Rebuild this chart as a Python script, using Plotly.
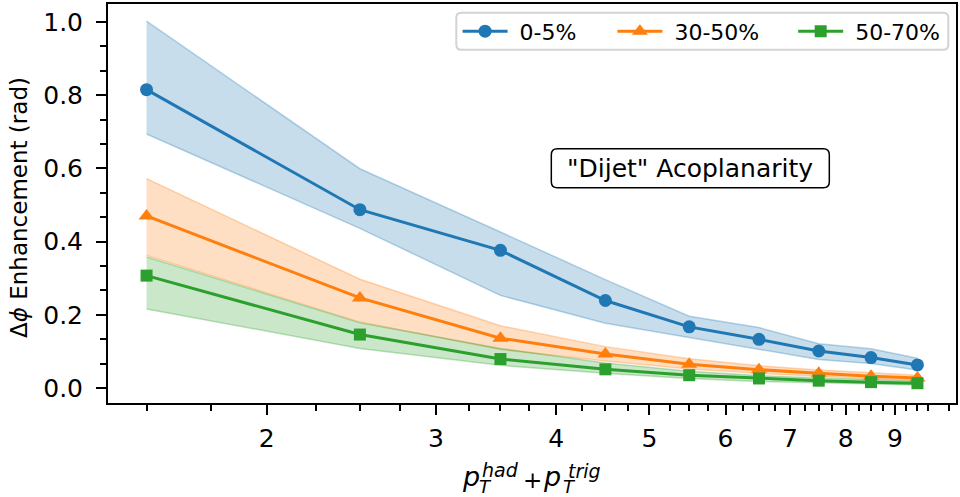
import plotly.graph_objects as go

# Summed transverse momentum bins (GeV/c)
pt_sum = [1.5, 2.5, 3.5, 4.5, 5.5, 6.5, 7.5, 8.5, 9.5]

# Delta-phi enhancement per centrality class: central value and band edges
central_mid = [0.815, 0.487, 0.376, 0.239, 0.167, 0.133, 0.101, 0.083, 0.063]
central_hi = [1.002, 0.599, 0.426, 0.296, 0.196, 0.165, 0.121, 0.107, 0.081]
central_lo = [0.694, 0.436, 0.253, 0.177, 0.138, 0.106, 0.078, 0.067, 0.049]

midc_mid = [0.470, 0.246, 0.136, 0.093, 0.065, 0.050, 0.040, 0.032, 0.027]
midc_hi = [0.572, 0.297, 0.170, 0.113, 0.080, 0.061, 0.049, 0.041, 0.035]
midc_lo = [0.362, 0.180, 0.105, 0.074, 0.052, 0.040, 0.032, 0.025, 0.021]

periph_mid = [0.307, 0.146, 0.079, 0.051, 0.035, 0.026, 0.020, 0.016, 0.013]
periph_hi = [0.358, 0.178, 0.108, 0.068, 0.046, 0.034, 0.027, 0.022, 0.019]
periph_lo = [0.216, 0.108, 0.062, 0.040, 0.026, 0.018, 0.014, 0.010, 0.008]

labels = ["0-5%", "30-50%", "50-70%"]
colors = ["#1f77b4", "#ff7f0e", "#2ca02c"]
rgb = ["31,119,180", "255,127,14", "44,160,44"]
symbols = ["circle", "triangle-up", "square"]
msizes = [13, 14, 12]

x_major = [2, 3, 4, 5, 6, 7, 8, 9]
x_minor = [v / 4 for v in range(6, 42) if v % 4 != 0]
y_major = [0.0, 0.2, 0.4, 0.6, 0.8, 1.0]
y_minor = [k * 0.2 / 3 for k in range(1, 15) if k % 3 != 0]

series = [
    (central_mid, central_hi, central_lo),
    (midc_mid, midc_hi, midc_lo),
    (periph_mid, periph_hi, periph_lo),
]

FONT = "DejaVu Sans"
PL, PR, PT, PB = 108, 957, 2, 403  # plot-area edges in pixels
PW, PH = PR - PL, PB - PT


def px_x(p):
    return (p - PL) / PW


def px_y(p):
    return (PB - p) / PH


legend_ids = ["legend", "legend2", "legend3"]
legend_left = [458, 613, 794]

fig = go.Figure()

for i, (mid, hi, lo) in enumerate(series):
    edge = f"rgba({rgb[i]},0.30)"
    fig.add_trace(go.Scatter(x=pt_sum, y=hi, mode="lines",
                             line=dict(color=edge, width=1.5),
                             showlegend=False, hoverinfo="skip"))
    fig.add_trace(go.Scatter(x=pt_sum, y=lo, mode="lines",
                             line=dict(color=edge, width=1.5),
                             fill="tonexty", fillcolor=f"rgba({rgb[i]},0.25)",
                             showlegend=False, hoverinfo="skip"))
    fig.add_trace(go.Scatter(x=pt_sum, y=mid, mode="lines+markers",
                             name="\u00a0" + labels[i], legend=legend_ids[i],
                             line=dict(color=colors[i], width=3),
                             marker=dict(symbol=symbols[i], size=msizes[i],
                                         color=colors[i], line=dict(width=0))))

axis_common = dict(
    showline=True, mirror=True, linecolor="black", linewidth=2,
    ticks="outside", ticklen=10, tickwidth=2, tickcolor="black",
    showgrid=False, zeroline=False,
    tickfont=dict(family=FONT, size=25, color="black"),
)

fig.update_xaxes(
    type="log", range=[0.136, 1.0178],
    tickmode="array", tickvals=x_major, ticktext=[str(v) for v in x_major],
    minor=dict(tickmode="array", tickvals=x_minor, ticks="outside",
               ticklen=6, tickwidth=1.6, tickcolor="black", showgrid=False),
    ticklabelstandoff=2,
    **axis_common,
)
fig.update_yaxes(
    range=[-0.041, 1.049],
    tickmode="array", tickvals=y_major, ticktext=[f"{v:.1f}" for v in y_major],
    minor=dict(tickmode="array", tickvals=y_minor, ticks="outside",
               ticklen=6, tickwidth=1.6, tickcolor="black", showgrid=False),
    ticklabelstandoff=8,
    **axis_common,
)


def rounded_rect(hw, hh, r):
    return (f"M {-hw + r},{-hh} L {hw - r},{-hh} Q {hw},{-hh} {hw},{-hh + r} "
            f"L {hw},{hh - r} Q {hw},{hh} {hw - r},{hh} L {-hw + r},{hh} "
            f"Q {-hw},{hh} {-hw},{hh - r} L {-hw},{-hh + r} Q {-hw},{-hh} {-hw + r},{-hh} Z")


shapes = [
    # legend frame
    dict(type="path", xref="paper", yref="paper", xsizemode="pixel", ysizemode="pixel",
         xanchor=px_x(703), yanchor=px_y(29.5),
         path=rounded_rect(246, 18.5, 5), line=dict(color="#d3d3d3", width=2),
         fillcolor="rgba(255,255,255,0.8)", layer="above"),
    # text box frame
    dict(type="path", xref="paper", yref="paper", xsizemode="pixel", ysizemode="pixel",
         xanchor=px_x(691), yanchor=px_y(167),
         path=rounded_rect(139, 19.5, 6), line=dict(color="black", width=1.5),
         fillcolor="white", layer="above"),
]

annotations = [
    dict(text='"Dijet" Acoplanarity', xref="paper", yref="paper",
         x=px_x(691), y=px_y(167), showarrow=False,
         xanchor="center", yanchor="middle",
         font=dict(family=FONT, size=25, color="black")),
    dict(text="Δ<i>ϕ</i> Enhancement (rad)", xref="paper", yref="paper",
         x=0, y=px_y(207), xshift=-(PL - 19), showarrow=False, textangle=-90,
         xanchor="center", yanchor="middle",
         font=dict(family=FONT, size=23, color="black")),
]

# x-axis title assembled from pieces so sub/superscripts stack
xlabel_parts = [
    ("<i>p</i>", 27, 471, 476),
    ("<i>T</i>", 18, 486, 486),
    ("<i>had</i>", 19, 501, 470),
    ("+", 23, 533, 480),
    ("<i>p</i>", 27, 552.5, 476),
    ("<i>T</i>", 18, 569.5, 486),
    ("<i>trig</i>", 19, 585, 471),
]
xc = (PL + PR) / 2
for txt, size, px, py in xlabel_parts:
    annotations.append(dict(text=txt, xref="paper", yref="paper", x=0.5, y=0,
                            xshift=px - xc, yshift=PB - py, showarrow=False,
                            xanchor="center", yanchor="middle", borderpad=0,
                            font=dict(family=FONT, size=size, color="black")))

legends = {}
for lid, left in zip(legend_ids, legend_left):
    legends[lid] = dict(orientation="h", x=px_x(left), xanchor="left",
                        y=px_y(29.5), yanchor="middle",
                        bgcolor="rgba(0,0,0,0)", borderwidth=0,
                        font=dict(family=FONT, size=22, color="black"),
                        itemwidth=45)

fig.update_layout(
    width=960, height=497,
    margin=dict(l=PL, r=960 - PR, t=PT, b=497 - PB),
    paper_bgcolor="white", plot_bgcolor="white",
    font=dict(family=FONT, color="black"),
    showlegend=True,
    shapes=shapes,
    annotations=annotations,
    **legends,
)

fig.write_html("out.html")
